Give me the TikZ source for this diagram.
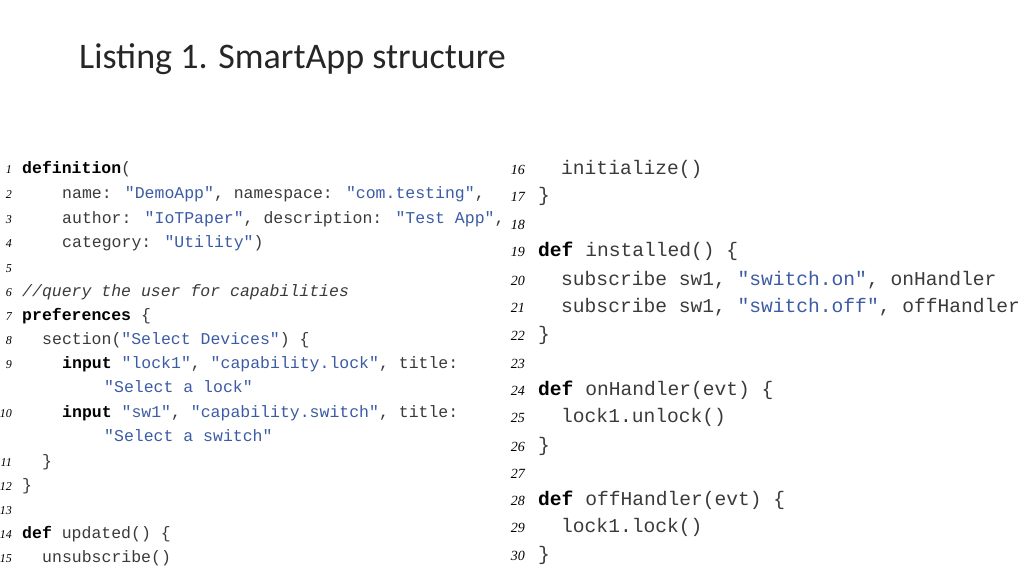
\documentclass[tikz,border=0pt]{standalone}
\usepackage{fontspec}
\setmainfont{Carlito}
\newfontfamily\codefont{Liberation Mono}
\newfontfamily\numfont{Liberation Serif}
\definecolor{strc}{HTML}{3B5BA5}
\definecolor{codec}{HTML}{3A3A3A}
\newcommand{\s}[1]{\textcolor{strc}{"#1"}}
\newcommand{\kw}[1]{\textcolor{black}{\bfseries #1}}
\tikzset{
  codeL/.style={anchor=base west,inner sep=0pt,text=codec,font=\codefont\fontsize{16.5}{18}\selectfont},
  codeR/.style={anchor=base west,inner sep=0pt,text=codec,font=\codefont\fontsize{19.6}{22}\selectfont},
  numL/.style={anchor=base east,inner sep=0pt,font=\numfont\itshape\fontsize{12}{14}\selectfont},
  numR/.style={anchor=base east,inner sep=0pt,font=\numfont\itshape\fontsize{14}{16}\selectfont},
}
\begin{document}
\begin{tikzpicture}[x=1pt,y=-1pt]
\useasboundingbox (0,0) rectangle (1024,576);
\node[anchor=base west,inner sep=0pt,font=\fontsize{36}{40}\selectfont,text=black!85] (title) at (79,68) {Listing 1. SmartApp structure};
% left column
\def\cw{9.9}
\foreach \n/\y in {1/173,2/198,3/223,4/247,5/272,6/296,7/320,8/344,9/368,10/417,11/466,12/490,13/514,14/538,15/562}
  \node[numL] (nl\n) at (12,\y) {\n};
\node[codeL] (c1) at (22,173) {\kw{definition}(};
\node[codeL] (c2) at (62,198) {name: \s{DemoApp}, namespace: \s{com.testing},};
\node[codeL] (c3) at (62,223) {author: \s{IoTPaper}, description: \s{Test App},};
\node[codeL] (c4) at (62,247) {category: \s{Utility})};
\node[codeL] (c6) at (22,296) {\itshape //query the user for capabilities};
\node[codeL] (c7) at (22,320) {\kw{preferences} \{};
\node[codeL] (c8) at (42,344) {section(\s{Select Devices}) \{};
\node[codeL] (c9) at (62,368) {\kw{input} \s{lock1}, \s{capability.lock}, title:};
\node[codeL] (c9b) at (104,392) {\s{Select a lock}};
\node[codeL] (c10) at (62,417) {\kw{input} \s{sw1}, \s{capability.switch}, title:};
\node[codeL] (c10b) at (104,441) {\s{Select a switch}};
\node[codeL] (c11) at (42,466) {\}};
\node[codeL] (c12) at (22,490) {\}};
\node[codeL] (c14) at (22,538) {\kw{def} updated() \{};
\node[codeL] (c15) at (42,562) {unsubscribe()};
% right column
\foreach \n/\y in {16/174,17/201,18/229,19/256,20/285,21/312,22/340,23/368,24/395,25/422,26/451,27/478,28/505,29/532,30/560}
  \node[numR] (nr\n) at (525,\y) {\n};
\node[codeR] (c16) at (561,174) {initialize()};
\node[codeR] (c17) at (538,201) {\}};
\node[codeR] (c19) at (538,256) {\kw{def} installed() \{};
\node[codeR] (c20) at (561,285) {subscribe sw1, \s{switch.on}, onHandler};
\node[codeR] (c21) at (561,312) {subscribe sw1, \s{switch.off}, offHandler};
\node[codeR] (c22) at (538,340) {\}};
\node[codeR] (c24) at (538,395) {\kw{def} onHandler(evt) \{};
\node[codeR] (c25) at (561,422) {lock1.unlock()};
\node[codeR] (c26) at (538,451) {\}};
\node[codeR] (c28) at (538,505) {\kw{def} offHandler(evt) \{};
\node[codeR] (c29) at (561,532) {lock1.lock()};
\node[codeR] (c30) at (538,560) {\}};
\end{tikzpicture}
\end{document}
